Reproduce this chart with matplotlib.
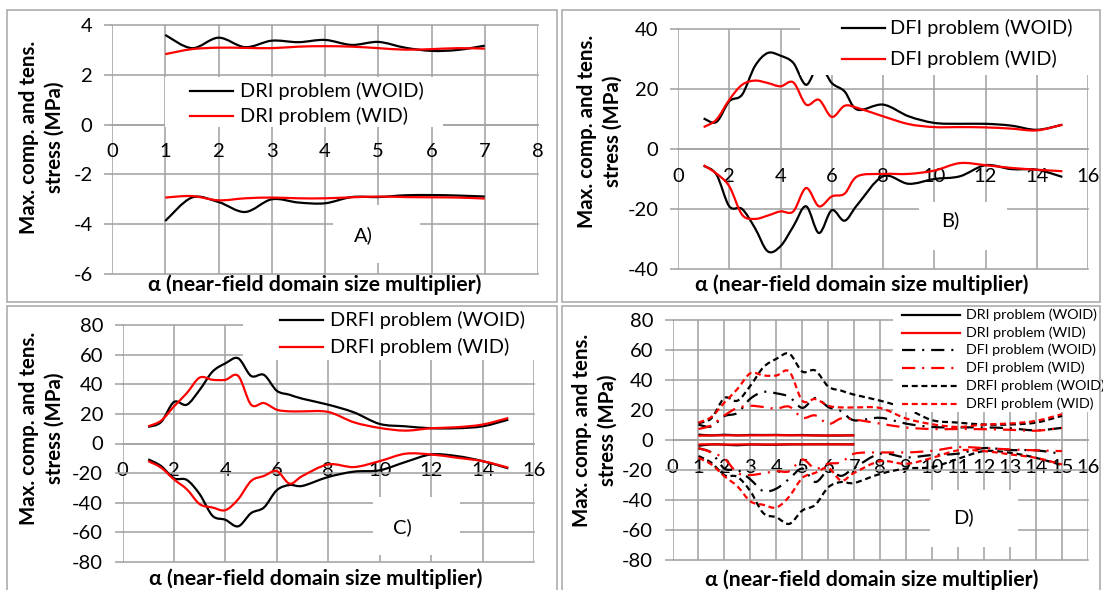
import numpy as np
import matplotlib
matplotlib.use('Agg')
import matplotlib.pyplot as plt
from matplotlib.path import Path
from matplotlib.patches import PathPatch, Rectangle
from matplotlib.lines import Line2D

plt.rcParams['font.family'] = ['Lato', 'DejaVu Sans']
plt.rcParams['axes.unicode_minus'] = False
plt.rcParams['lines.scale_dashes'] = False

# ---- data ----
x_dri = [1, 1.5, 2, 2.5, 3, 3.5, 4, 4.5, 5, 5.5, 6, 6.5, 7]
dri_woid_max = [3.60, 3.07, 3.49, 3.11, 3.37, 3.31, 3.40, 3.20, 3.32, 3.09, 2.96, 3.00, 3.17]
dri_wid_max = [2.83, 3.03, 3.09, 3.08, 3.07, 3.13, 3.15, 3.13, 3.07, 3.01, 3.03, 3.07, 3.05]
dri_woid_min = [-3.87, -2.93, -3.11, -3.51, -3.00, -3.13, -3.16, -2.91, -2.91, -2.84, -2.83, -2.85, -2.89]
dri_wid_min = [-2.93, -2.87, -3.04, -2.96, -2.93, -2.96, -2.96, -2.92, -2.89, -2.91, -2.92, -2.93, -2.97]

x_df = [1, 1.5, 2, 2.5, 3, 3.5, 4, 4.5, 5, 5.5, 6, 6.5, 7, 8, 9, 10, 11, 12, 13, 14, 15]
dfi_woid_max = [10.2, 9.0, 15.9, 18.1, 27.6, 32.0, 31.1, 28.7, 21.4, 28.0, 22.0, 19.2, 13.1, 14.8, 10.9, 8.7, 8.4, 8.4, 7.8, 6.4, 8.1]
dfi_wid_max = [7.3, 9.8, 16.4, 21.4, 22.8, 22.0, 20.9, 22.2, 14.8, 16.4, 10.7, 14.4, 13.7, 10.9, 8.3, 7.3, 7.3, 7.2, 6.8, 6.2, 8.1]
dfi_woid_min = [-5.6, -8.5, -19.1, -20.0, -26.3, -34.1, -32.4, -25.8, -19.1, -28.0, -20.4, -23.9, -18.6, -9.1, -11.6, -10.0, -9.1, -5.4, -6.7, -6.9, -9.3]
dfi_wid_min = [-5.4, -8.2, -12.4, -21.9, -23.3, -22.2, -20.8, -20.8, -13.0, -19.1, -15.8, -14.9, -9.1, -8.3, -8.3, -7.2, -4.7, -5.4, -6.3, -6.9, -7.4]

drfi_woid_max = [11.2, 14.5, 28.0, 26.2, 36.2, 48.5, 54.1, 57.5, 45.6, 46.3, 35.6, 32.9, 30.2, 26.2, 21.0, 13.2, 11.6, 10.3, 10.3, 11.6, 16.1]
drfi_wid_max = [11.6, 15.4, 25.0, 34.0, 44.5, 43.0, 43.0, 45.6, 26.2, 27.3, 22.8, 21.7, 21.7, 21.3, 14.3, 10.5, 8.7, 10.3, 11.0, 12.8, 17.2]
drfi_woid_min = [-10.7, -15.2, -23.5, -24.6, -34.2, -48.8, -51.5, -55.9, -47.0, -43.2, -31.5, -28.0, -28.6, -22.6, -19.0, -18.1, -12.5, -7.4, -8.5, -11.9, -16.8]
drfi_wid_min = [-11.9, -16.3, -24.2, -30.9, -40.9, -43.2, -45.0, -37.6, -25.3, -21.9, -18.6, -27.1, -21.9, -14.1, -15.9, -11.9, -6.9, -7.4, -9.6, -11.9, -16.3]

xlabel = 'α (near-field domain size multiplier)'
ylabel = 'Max. comp. and tens.\nstress (MPa)'

W, H = 1103, 590
fig = plt.figure(figsize=(W / 100, H / 100), dpi=100)
GRID = '#A3A3A3'
DASHDOT = (0, (9.5, 5, 1.5, 5))
DASH = (0, (4.3, 2.7))


def px_box(l, t, r, b):
    return [l / W, 1 - b / H, (r - l) / W, (b - t) / H]


def smooth(ax, x, y, color, ls='-', lw=1.6):
    # excel-like smoothed line: cubic bezier segments through the points
    p = np.column_stack([x, y]).astype(float)
    q = np.vstack([p[0], p, p[-1]])
    verts, codes = [p[0]], [Path.MOVETO]
    for i in range(len(p) - 1):
        c1 = q[i + 1] + (q[i + 2] - q[i]) / 6
        c2 = q[i + 2] - (q[i + 3] - q[i + 1]) / 6
        verts += [c1, c2, p[i + 1]]
        codes += [Path.CURVE4] * 3
    ax.add_patch(PathPatch(Path(verts, codes), fill=False, edgecolor=color,
                           lw=lw, ls=ls, capstyle='butt', joinstyle='round', zorder=3))


def setup(box, xmax, xstep, ymin, ymax, ystep):
    ax = fig.add_axes(px_box(*box))
    ax.set_xlim(0, xmax)
    ax.set_ylim(ymin, ymax)
    ax.set_xticks(np.arange(0, xmax + 1, xstep))
    ax.set_yticks(np.arange(ymin, ymax + 1, ystep))
    ax.grid(True, color=GRID, lw=1.15)
    ax.set_axisbelow(True)
    for ln in ax.get_xgridlines() + ax.get_ygridlines():
        ln.set_clip_on(False)
    for s in ['top', 'right', 'left']:
        ax.spines[s].set_visible(False)
    ax.spines['bottom'].set_position(('data', 0))
    ax.spines['bottom'].set_color(GRID)
    ax.spines['bottom'].set_linewidth(1.15)
    ax.tick_params(axis='y', length=6, width=1.15, color=GRID, pad=8, labelsize=14.5)
    ax.tick_params(axis='x', length=0, pad=13.5, labelsize=14.5)
    return ax


def cover(l, t, r, b):
    fig.add_artist(Rectangle((l / W, 1 - b / H), (r - l) / W, (b - t) / H,
                             transform=fig.transFigure, facecolor='white',
                             edgecolor='none', zorder=2))


def legend(x0, x1, xt, ys, labels, styles, size):
    for y, lab, (c, ls) in zip(ys, labels, styles):
        fig.add_artist(Line2D([x0 / W, x1 / W], [1 - y / H] * 2, color=c, ls=ls,
                              lw=1.6, zorder=3, transform=fig.transFigure))
        fig.text(xt / W, 1 - y / H, lab, fontsize=size, va='center', ha='left', zorder=4)


def labels(xl, yl, tag):
    fig.text(xl[0] / W, 1 - xl[1] / H, xlabel, fontsize=15.3, fontweight='bold',
             ha='center', va='center', zorder=4)
    fig.text(yl[0] / W, 1 - yl[1] / H, ylabel, fontsize=14.8, fontweight='bold',
             ha='center', va='center', rotation=90, linespacing=1.35, zorder=4)
    fig.text(tag[0] / W, 1 - tag[1] / H, tag[2], fontsize=14.5, ha='center',
             va='center', zorder=4)


# panel frames
for l, t, r, b in [(7, 10, 557, 302), (562, 10, 1100, 302), (7, 306, 557, 595), (562, 306, 1100, 595)]:
    fig.add_artist(Rectangle((l / W, 1 - b / H), (r - l) / W, (b - t) / H,
                             transform=fig.transFigure, facecolor='none',
                             edgecolor='#ADADAD', lw=1.2, zorder=1))

# A) DRI
axA = setup((112, 25, 538, 274), 8, 1, -6, 4, 2)
smooth(axA, x_dri, dri_woid_max, 'black')
smooth(axA, x_dri, dri_woid_min, 'black')
smooth(axA, x_dri, dri_wid_max, 'red')
smooth(axA, x_dri, dri_wid_min, 'red')
cover(165, 77, 443, 127)
cover(333, 205, 420, 263)
legend(190, 233, 240, [91, 116], ['DRI problem (WOID)', 'DRI problem (WID)'],
       [('black', '-'), ('red', '-')], 14.3)
labels((315, 285), (41.5, 137), (363, 235, 'A)'))

# B) DFI
axB = setup((678, 29, 1088, 269), 16, 2, -40, 40, 20)
smooth(axB, x_df, dfi_woid_max, 'black')
smooth(axB, x_df, dfi_woid_min, 'black')
smooth(axB, x_df, dfi_wid_max, 'red')
smooth(axB, x_df, dfi_wid_min, 'red')
cover(800, 12, 1097, 75)
cover(919, 202, 1007, 250)
legend(842, 885, 890, [28, 59], ['DFI problem (WOID)', 'DFI problem (WID)'],
       [('black', '-'), ('red', '-')], 14.3)
labels((862, 285), (600, 131), (950, 220, 'B)'))

# C) DRFI
axC = setup((122.5, 325, 534, 562), 16, 2, -80, 80, 20)
smooth(axC, x_df, drfi_woid_max, 'black')
smooth(axC, x_df, drfi_woid_min, 'black')
smooth(axC, x_df, drfi_wid_max, 'red')
smooth(axC, x_df, drfi_wid_min, 'red')
cover(243, 308, 548, 360)
cover(373, 497, 460, 555)
legend(280, 323, 330, [320, 347], ['DRFI problem (WOID)', 'DRFI problem (WID)'],
       [('black', '-'), ('red', '-')], 14.3)
labels((316, 579), (42, 428), (402, 527, 'C)'))

# D) all together
axD = setup((672.5, 320, 1088, 560), 16, 1, -80, 80, 20)
series = [
    (x_dri, dri_woid_max, dri_woid_min, 'black', '-'),
    (x_dri, dri_wid_max, dri_wid_min, 'red', '-'),
    (x_df, dfi_woid_max, dfi_woid_min, 'black', DASHDOT),
    (x_df, dfi_wid_max, dfi_wid_min, 'red', DASHDOT),
    (x_df, drfi_woid_max, drfi_woid_min, 'black', DASH),
    (x_df, drfi_wid_max, drfi_wid_min, 'red', DASH),
]
for x, ymax, ymin, c, ls in series:
    smooth(axD, x, ymax, c, ls)
    smooth(axD, x, ymin, c, ls)
cover(893, 308, 1099, 412)
cover(930, 490, 1018, 547)
legend(902, 960, 966, [315, 332.5, 350, 368, 386, 404],
       ['DRI problem (WOID)', 'DRI problem (WID)', 'DFI problem (WOID)',
        'DFI problem (WID)', 'DRFI problem (WOID)', 'DRFI problem (WID)'],
       [(s[3], s[4]) for s in series], 10.3)
labels((872, 580), (595, 430), (963, 517, 'D)'))

fig.savefig('out.png', dpi=100)
